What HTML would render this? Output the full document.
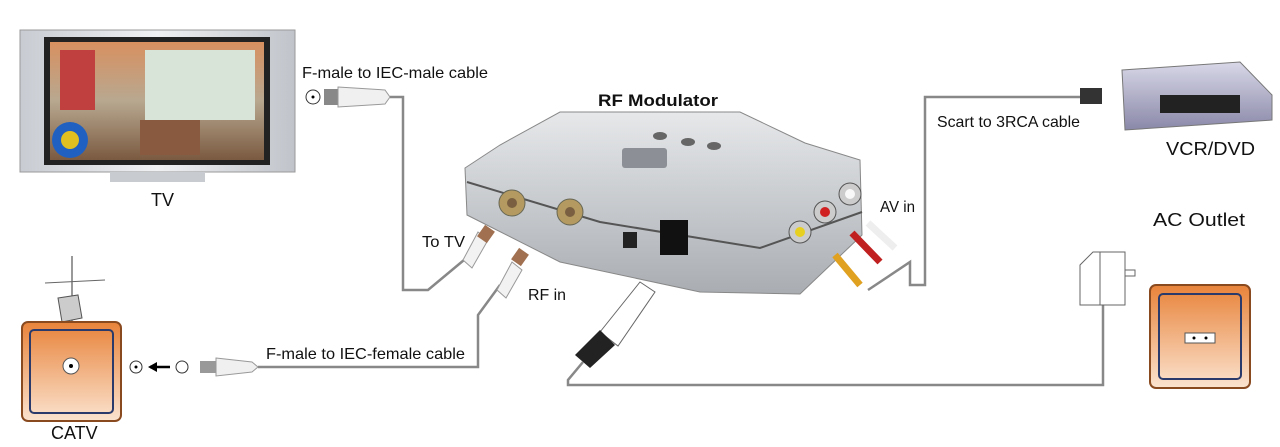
<!DOCTYPE html>
<html><head><meta charset="utf-8"><style>
html,body{margin:0;padding:0;background:#fff;}
svg{display:block;}
text{font-family:"Liberation Sans",sans-serif;fill:#111;}
</style></head><body>
<svg width="1280" height="447" viewBox="0 0 1280 447" xmlns="http://www.w3.org/2000/svg">
<defs>
<linearGradient id="silver" x1="0" y1="0" x2="0" y2="1"><stop offset="0" stop-color="#e6e8ea"/><stop offset="1" stop-color="#a9adb2"/></linearGradient>
<linearGradient id="tvf" x1="0" y1="0" x2="1" y2="0"><stop offset="0" stop-color="#c8ccd2"/><stop offset="0.5" stop-color="#f0f1f3"/><stop offset="1" stop-color="#c0c4ca"/></linearGradient>
<linearGradient id="orange" x1="0" y1="0" x2="0" y2="1"><stop offset="0" stop-color="#e8833a"/><stop offset="1" stop-color="#fbe3cf"/></linearGradient>
<linearGradient id="scr" x1="0" y1="0" x2="0" y2="1"><stop offset="0" stop-color="#d89060"/><stop offset="0.5" stop-color="#b8a890"/><stop offset="1" stop-color="#7a5a40"/></linearGradient>
<linearGradient id="vcr" x1="0" y1="0" x2="0" y2="1"><stop offset="0" stop-color="#d8d8e8"/><stop offset="1" stop-color="#8a88a8"/></linearGradient>
</defs>

<!-- TV -->
<rect x="20" y="30" width="275" height="142" fill="url(#tvf)" stroke="#999"/>
<rect x="44" y="37" width="226" height="128" fill="#222"/>
<rect x="50" y="42" width="214" height="118" fill="url(#scr)"/>
<rect x="145" y="50" width="110" height="70" fill="#d8e4d8"/>
<rect x="60" y="50" width="35" height="60" fill="#c04040"/>
<rect x="140" y="120" width="60" height="35" fill="#8a5a40"/>
<circle cx="70" cy="140" r="18" fill="#2060c0"/><circle cx="70" cy="140" r="9" fill="#e0c020"/>
<rect x="110" y="172" width="95" height="10" fill="#c8ccd0"/>
<text x="151" y="206" font-size="18">TV</text>

<!-- top cable -->
<text x="302" y="78" font-size="16" textLength="186" lengthAdjust="spacingAndGlyphs">F-male to IEC-male cable</text>
<circle cx="313" cy="97" r="7" fill="#fff" stroke="#333"/><circle cx="313" cy="97" r="1.5" fill="#000"/>
<rect x="324" y="89" width="14" height="16" fill="#888"/>
<path d="M338 87 L385 90 L390 97 L385 104 L338 107 Z" fill="#f0f0f0" stroke="#999"/>
<polyline points="390,97 403,97 403,290 428,290 470,255" fill="none" stroke="#888" stroke-width="2.5"/>
<path d="M463 260 L478 232 L488 240 L472 268 Z" fill="#f2f2f2" stroke="#999"/>
<rect x="480" y="227" width="12" height="14" fill="#a07050" transform="rotate(35 486 234)"/>
<text x="422" y="247" font-size="16" textLength="43" lengthAdjust="spacingAndGlyphs">To TV</text>

<!-- CATV antenna -->
<line x1="72" y1="256" x2="72" y2="385" stroke="#333"/>
<line x1="45" y1="283" x2="105" y2="280" stroke="#666"/>
<polygon points="58,298 78,295 82,318 62,322" fill="#ccc" stroke="#555"/>
<line x1="50" y1="355" x2="100" y2="340" stroke="#666"/>
<rect x="22" y="322" width="99" height="99" rx="6" fill="url(#orange)" stroke="#8a4a20" stroke-width="2"/>
<rect x="30" y="330" width="83" height="83" rx="4" fill="none" stroke="#2a3a6a" stroke-width="2"/>
<circle cx="71" cy="366" r="8" fill="#fff" stroke="#555"/><circle cx="71" cy="366" r="2" fill="#000"/>
<text x="51" y="439" font-size="18">CATV</text>
<circle cx="136" cy="367" r="6" fill="#fff" stroke="#333"/><circle cx="136" cy="367" r="1.5" fill="#000"/>
<path d="M150 367 L170 367" stroke="#000" stroke-width="2.5"/><path d="M148 367 L157 362 L157 372 Z" fill="#000"/>
<circle cx="182" cy="367" r="6" fill="#fff" stroke="#333"/>
<rect x="200" y="361" width="16" height="12" fill="#999"/>
<path d="M216 358 L252 362 L258 367 L252 372 L216 376 Z" fill="#f0f0f0" stroke="#999"/>
<text x="266" y="359" font-size="16" textLength="199" lengthAdjust="spacingAndGlyphs">F-male to IEC-female cable</text>
<polyline points="258,367 478,367 478,315 500,285" fill="none" stroke="#888" stroke-width="2.5"/>
<path d="M497 290 L512 262 L522 270 L506 298 Z" fill="#f2f2f2" stroke="#999"/>
<rect x="514" y="250" width="12" height="14" fill="#a07050" transform="rotate(35 520 257)"/>
<text x="528" y="300" font-size="16" textLength="38" lengthAdjust="spacingAndGlyphs">RF in</text>

<!-- RF Modulator -->
<text x="598" y="106" font-size="17" font-weight="bold" textLength="120" lengthAdjust="spacingAndGlyphs">RF Modulator</text>
<path d="M465,168 L500,145 L560,112 L740,112 L805,143 L860,160 L862,235 L800,294 L700,292 L560,262 L467,215 Z" fill="url(#silver)" stroke="#888"/>
<path d="M467,182 L600,222 L760,248 L862,212" fill="none" stroke="#555" stroke-width="2"/>
<rect x="622" y="148" width="45" height="20" fill="#8c9096" rx="3"/>
<ellipse cx="660" cy="136" rx="7" ry="4" fill="#666"/><ellipse cx="688" cy="142" rx="7" ry="4" fill="#666"/><ellipse cx="714" cy="146" rx="7" ry="4" fill="#666"/>
<circle cx="512" cy="203" r="13" fill="#b49a60" stroke="#665"/><circle cx="512" cy="203" r="5" fill="#7a6040"/>
<circle cx="570" cy="212" r="13" fill="#b49a60" stroke="#665"/><circle cx="570" cy="212" r="5" fill="#7a6040"/>
<rect x="623" y="232" width="14" height="16" fill="#222"/>
<rect x="660" y="220" width="28" height="35" fill="#111"/>
<circle cx="800" cy="232" r="11" fill="#ccc" stroke="#555"/><circle cx="800" cy="232" r="5" fill="#e8d020"/>
<circle cx="825" cy="212" r="11" fill="#ccc" stroke="#555"/><circle cx="825" cy="212" r="5" fill="#d02020"/>
<circle cx="850" cy="194" r="11" fill="#ccc" stroke="#555"/><circle cx="850" cy="194" r="5" fill="#f8f8f8"/>
<path d="M835 255 L860 285" stroke="#e0a020" stroke-width="7"/>
<path d="M852 233 L880 262" stroke="#c02020" stroke-width="7"/>
<path d="M868 223 L895 248" stroke="#eee" stroke-width="7"/>
<polyline points="868,290 910,262 910,285 925,285 925,97 1082,97" fill="none" stroke="#888" stroke-width="2.5"/>
<rect x="1080" y="88" width="22" height="16" fill="#333"/>
<text x="880" y="212" font-size="16" textLength="35" lengthAdjust="spacingAndGlyphs">AV in</text>
<text x="937" y="127" font-size="16" textLength="143" lengthAdjust="spacingAndGlyphs">Scart to 3RCA cable</text>

<!-- VCR -->
<path d="M1122 70 L1240 62 L1272 95 L1272 120 L1125 130 Z" fill="url(#vcr)" stroke="#777"/>
<rect x="1160" y="95" width="80" height="18" fill="#222"/>
<text x="1166" y="155" font-size="18" textLength="89" lengthAdjust="spacingAndGlyphs">VCR/DVD</text>

<!-- power -->
<path d="M600 332 L640 282 L655 292 L618 346 Z" fill="#fff" stroke="#666"/>
<path d="M575 355 L600 330 L615 345 L590 368 Z" fill="#222"/>
<polyline points="583,362 568,380 568,385 1103,385 1103,305" fill="none" stroke="#888" stroke-width="2.5"/>
<path d="M1080 265 L1093 252 L1125 252 L1125 305 L1080 305 Z" fill="#fff" stroke="#666"/>
<line x1="1100" y1="252" x2="1100" y2="305" stroke="#666"/>
<rect x="1125" y="270" width="10" height="6" fill="#fff" stroke="#666"/>
<text x="1153" y="226" font-size="18" textLength="92" lengthAdjust="spacingAndGlyphs">AC Outlet</text>
<rect x="1150" y="285" width="100" height="103" rx="6" fill="url(#orange)" stroke="#8a4a20" stroke-width="2"/>
<rect x="1159" y="294" width="82" height="85" rx="4" fill="none" stroke="#2a3a6a" stroke-width="2"/>
<rect x="1185" y="333" width="30" height="10" fill="#fff" stroke="#555"/>
<circle cx="1194" cy="338" r="1.5" fill="#000"/><circle cx="1206" cy="338" r="1.5" fill="#000"/>
</svg>
</body></html>
